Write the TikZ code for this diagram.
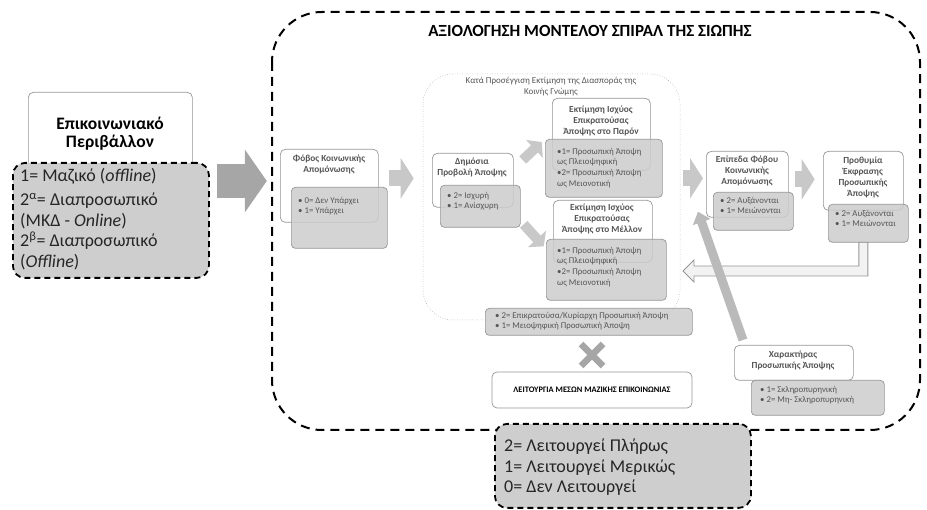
\documentclass[tikz,border=0pt]{standalone}
\usepackage{fontspec}
\setmainfont{Carlito}
\usetikzlibrary{arrows.meta,positioning,calc}
\definecolor{boxgray}{RGB}{204,204,204}
\definecolor{dashfill}{RGB}{206,206,206}
\definecolor{edgegray}{RGB}{150,150,150}
\definecolor{txtgray}{RGB}{85,85,85}
\definecolor{arrowgray}{RGB}{200,200,200}
\definecolor{bigarrowgray}{RGB}{166,166,166}
\definecolor{fbfill}{RGB}{242,242,242}
\tikzset{
  framedash/.style={line width=2pt, dash pattern=on 9pt off 6pt, rounded corners=50pt},
  groupdot/.style={draw=edgegray, line width=0.5pt, dotted, rounded corners=30pt},
  whitebox/.style={draw=edgegray, fill=white, line width=0.7pt, rounded corners=5pt, anchor=north west, inner sep=0pt},
  graybox/.style={draw=edgegray, fill=boxgray, fill opacity=0.85, line width=0.7pt, rounded corners=4pt, anchor=north west, inner sep=0pt},
  dashbox/.style={draw=black, fill=dashfill, line width=1.8pt, dash pattern=on 6pt off 4pt, rounded corners=12pt, anchor=north west, inner sep=0pt},
  headtxt/.style={font=\fontsize{9.3}{10.8}\selectfont\bfseries, text=txtgray, align=center, anchor=north, inner sep=0pt},
  itemtxt/.style={font=\fontsize{8.8}{10.6}\selectfont, text=txtgray, align=left, anchor=north west, inner sep=0pt},
  bigtxt/.style={font=\fontsize{18}{20.5}\selectfont, text=black!85, align=left, anchor=north west, inner sep=0pt},
  flowarrow/.style={arrowgray, line width=16pt, -{Triangle[length=13pt,width=40pt]}},
  diagarrow/.style={arrowgray, line width=10pt, -{Triangle[length=10pt,width=24pt]}},
  bigarrow/.style={bigarrowgray, line width=34pt, -{Triangle[length=22pt,width=62pt]}},
  fbarrow/.style={draw=edgegray, fill=fbfill, line width=0.8pt},
  barrow/.style={black!27, line width=9pt, -{Triangle[length=11pt,width=18pt]}},
}

\begin{document}
\begin{tikzpicture}[x=1pt,y=-1pt]
  \useasboundingbox (0,0) rectangle (927,510);

  % outer model frame
  \draw[framedash] (272,12) rectangle (920,430);
  \node[font=\fontsize{17}{19}\selectfont\bfseries] (title) at (590,31)
    {ΑΞΙΟΛΟΓΗΣΗ ΜΟΝΤΕΛΟΥ ΣΠΙΡΑΛ ΤΗΣ ΣΙΩΠΗΣ};

  % inner group: estimate of opinion climate
  \draw[groupdot] (423,74) rectangle (680,320);

  % left: communication environment
  \node[whitebox, minimum width=164pt, minimum height=78pt] (env) at (28,92) {};
  \node[headtxt, font=\fontsize{17.5}{17.5}\selectfont\bfseries, text=black] (envtitle) at (110,117)
    {Επικοινωνιακό\\Περιβάλλον};
  \node[dashbox, minimum width=196pt, minimum height=115pt] (envgray) at (12,162) {};
  \node[bigtxt] (envvals) at (20,168)
    {1= Μαζικό (\textit{offline})\\[4pt]
     2\textsuperscript{α}= Διαπροσωπικό\\
     (ΜΚΔ - \textit{Online})\\
     2\textsuperscript{β}= Διαπροσωπικό\\
     (\textit{Offline})};
  \draw[bigarrow] ($(envgray.north east)+(7,19)$) -- ++(50,0);

  % fear of isolation
  \node[whitebox, minimum width=98pt, minimum height=73pt] (fear) at (280,149) {};
  \node[headtxt] (feartitle) at (329,155) {Φόβος Κοινωνικής\\Απομόνωσης};
  \node[graybox, minimum width=96pt, minimum height=61pt] (feargray) at (291,187) {};
  \node[itemtxt] (fearvals) at (298,197) {• 0= Δεν Υπάρχει\\• 1= Υπάρχει};
  \draw[flowarrow] ($(fear.east)+(10,-7.5)$) -- ++(25,0);

  % public expression
  \node[whitebox, minimum width=81pt, minimum height=54pt] (pub) at (432,153) {};
  \node[headtxt] (pubtitle) at (472,158) {Δημόσια\\Προβολή Άποψης};
  \node[graybox, minimum width=80pt, minimum height=42pt] (pubgray) at (440,185) {};
  \node[itemtxt] (pubvals) at (447,192) {• 2= Ισχυρή\\• 1= Ανίσχυρη};

  % present estimate
  \node[whitebox, minimum width=98pt, minimum height=72pt] (now) at (552,98) {};
  \node[headtxt] (nowtitle) at (601,106) {Εκτίμηση Ισχύος\\Επικρατούσας\\Άποψης στο Παρόν};
  \node[graybox, minimum width=117pt, minimum height=58pt] (nowgray) at (545,139) {};
  \node[itemtxt] (nowvals) at (557,148)
    {•1= Προσωπική Άποψη\\ως Πλειοψηφική\\•2= Προσωπική Άποψη\\ως Μειονοτική};

  % future estimate
  \node[whitebox, minimum width=99pt, minimum height=62pt] (later) at (553,200) {};
  \node[headtxt] (latertitle) at (602,204) {Εκτίμηση Ισχύος\\Επικρατούσας\\Άποψης στο Μέλλον};
  \node[graybox, minimum width=120pt, minimum height=61pt] (latergray) at (546,239) {};
  \node[itemtxt] (latervals) at (557,247)
    {•1= Προσωπική Άποψη\\ως Πλειοψηφική\\•2= Προσωπική Άποψη\\ως Μειονοτική};

  \node[itemtxt, anchor=north, align=center, font=\fontsize{9}{10.5}\selectfont] (grouptitle) at (551,77)
    {Κατά Προσέγγιση Εκτίμηση της Διασποράς της\\Κοινής Γνώμης};

  \draw[diagarrow] ($(pub.north east)+(9,7)$) -- ++(19,-18);
  \draw[diagarrow] ($(pubgray.east)+(3,18)$) -- ++(20,22);

  % personal opinion values
  \node[graybox, minimum width=207pt, minimum height=27pt] (opinion) at (485,308) {};
  \node[itemtxt] (opinionvals) at (495,312)
    {• 2= Επικρατούσα/Κυρίαρχη Προσωπική Άποψη\\• 1= Μειοψηφική Προσωπική Άποψη};

  % mass media
  \draw[bigarrowgray, line width=6.5pt] (581,344) -- (603,366) (581,366) -- (603,344);
  \node[whitebox, anchor=center, minimum width=200pt, minimum height=36pt,
        font=\fontsize{8.4}{10}\selectfont\bfseries] (media) at (592,390)
    {ΛΕΙΤΟΥΡΓΙΑ ΜΕΣΩΝ ΜΑΖΙΚΗΣ ΕΠΙΚΟΙΝΩΝΙΑΣ};
  \node[dashbox, minimum width=256pt, minimum height=84pt] (mediagray) at (494,423) {};
  \node[bigtxt] (mediavals) at (504,439)
    {2= Λειτουργεί Πλήρως\\1= Λειτουργεί Μερικώς\\0= Δεν Λειτουργεί};

  % fear levels
  \node[whitebox, minimum width=82pt, minimum height=66pt] (level) at (706,151) {};
  \node[headtxt] (leveltitle) at (747,156) {Επίπεδα Φόβου\\Κοινωνικής\\Απομόνωσης};
  \node[graybox, minimum width=80pt, minimum height=38pt] (levelgray) at (713,192) {};
  \node[itemtxt] (levelvals) at (720,197) {• 2= Αυξάνονται\\• 1= Μειώνονται};
  \draw[flowarrow] ($(level.west)+(-23,-6)$) -- ++(20,0);
  \draw[flowarrow] ($(level.east)+(6,-5)$) -- ++(20,0);

  % willingness to speak
  \node[whitebox, minimum width=80pt, minimum height=59pt] (will) at (823,151) {};
  \node[headtxt] (willtitle) at (863,157) {Προθυμία\\Έκφρασης\\Προσωπικής\\Άποψης};
  \draw[fbarrow] ([xshift=4.5pt]will.south |- 0,242) |- (694,276) -- (694,282) -- (683,271)
    -- (694,260) -- (694,266) -| ([xshift=-4.5pt]will.south |- 0,242) -- cycle;
  \node[graybox, minimum width=80pt, minimum height=38pt] (willgray) at (828,204) {};
  \node[itemtxt] (willvals) at (835,210) {• 2= Αυξάνονται\\• 1= Μειώνονται};

  % character of personal opinion
  \node[whitebox, minimum width=119pt, minimum height=35pt] (trait) at (734,345) {};
  \node[headtxt] (traittitle) at (793,351) {Χαρακτήρας\\Προσωπικής Άποψης};
  \node[graybox, minimum width=133pt, minimum height=35pt] (traitgray) at (751,380) {};
  \node[itemtxt] (traitvals) at (760,386) {• 1= Σκληροπυρηνική\\• 2= Μη- Σκληροπυρηνική};
  \draw[barrow] ($(trait.north west)+(9,-5)$) -- ($(levelgray.south west)+(-15,-19)$);
\end{tikzpicture}
\end{document}
